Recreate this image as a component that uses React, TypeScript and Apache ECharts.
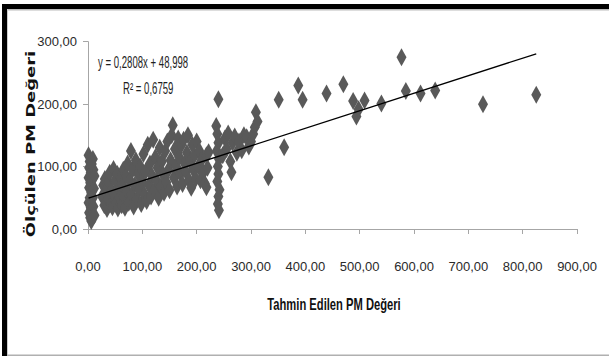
import React, { useEffect, useRef } from "react";
import * as echarts from "echarts";

const nearZeroPoints = [
  [1, 118], [3, 108], [2, 98], [5, 90], [1, 82], [4, 74], [2, 66], [6, 58], [3, 50], [1, 42], [5, 34],
  [2, 26], [4, 18], [6, 13], [9, 112], [10, 95], [8, 80], [11, 65], [9, 50], [10, 36], [12, 22], [7, 104], [12, 85],
];
const lowPoints = [
  [26, 52], [28, 70], [30, 38], [31, 80], [33, 60], [35, 32], [37, 48], [38, 75], [40, 90], [42, 40], [43, 62],
  [45, 35], [47, 96], [48, 55], [50, 78], [52, 42], [54, 88], [55, 33], [57, 65], [58, 50], [60, 82],
  [62, 38], [63, 70], [65, 95], [66, 52], [68, 34], [70, 85], [72, 60], [73, 105], [75, 42], [77, 78], [79, 125],
  [80, 55], [82, 95], [84, 36], [86, 70], [88, 110], [90, 48], [92, 88], [94, 62], [96, 100], [98, 40], [100, 75],
];
const midPoints = [
  [102, 120], [104, 55], [106, 92], [108, 45], [110, 135], [112, 70], [114, 105], [116, 52], [118, 85], [120, 143],
  [122, 62], [124, 115], [126, 78], [128, 98], [130, 50], [132, 130], [134, 68], [136, 108], [138, 88], [140, 58],
  [142, 125], [144, 75], [146, 140], [148, 95], [150, 62], [152, 110], [154, 150], [156, 166], [158, 82], [160, 128],
  [162, 100], [164, 68], [166, 145], [168, 115], [170, 88], [172, 135], [174, 72], [176, 143], [178, 105], [180, 92],
  [182, 122], [184, 150], [186, 78], [188, 108], [190, 66], [192, 135], [194, 95], [196, 118], [198, 80], [200, 140],
  [203, 100], [205, 125], [207, 78], [210, 112], [212, 90], [215, 73], [218, 118], [218, 67], [220, 98], [222, 123],
];
const upperMidPoints = [
  [236, 165], [238, 152], [240, 138], [237, 125], [241, 112], [239, 100], [240, 88], [238, 76], [242, 63], [240, 52],
  [239, 40], [241, 30], [240, 208],
  [248, 118], [252, 145], [255, 128], [258, 153], [262, 108], [264, 91], [266, 138], [270, 148], [274, 122],
  [278, 140], [283, 126], [287, 150], [292, 147], [296, 132], [300, 140], [304, 152], [307, 163], [309, 187], [312, 172],
];
const highPoints = [
  [332, 83], [351, 207], [361, 131], [387, 230], [395, 207], [439, 217], [470, 232], [488, 205], [494, 180],
  [498, 192], [509, 206], [540, 201], [577, 275], [585, 221], [612, 217], [639, 222], [727, 200], [825, 215],
];

// Trendline end points (y = 0,2808x + 48,998 over the data range)
const trendX = [1, 825];
const trendY = [49.28, 280.66];

const xTicks = { min: 0, max: 900, step: 100 };
const yTicks = { min: 0, max: 300, step: 100 };

const equationText = "y = 0,2808x + 48,998";
const r2Text = "R² = 0,6759";
const xTitle = "Tahmin Edilen PM Değeri";
const yTitle = "Ölçülen PM Değeri";

const fmt = (v: number) => v.toFixed(2).replace(".", ",");
const labelFont = '"Liberation Sans", Arial, sans-serif';

export default function App() {
  const ref = useRef<HTMLDivElement>(null);

  useEffect(() => {
    document.body.style.margin = "0";
    const chart = echarts.init(ref.current!, null, { renderer: "svg" });
    const points = [...nearZeroPoints, ...lowPoints, ...midPoints, ...upperMidPoints, ...highPoints];
    chart.setOption({
      animation: false,
      backgroundColor: "#ffffff",
      grid: { left: 88, right: 32, top: 41.7, bottom: 127, containLabel: false },
      xAxis: {
        type: "value",
        min: xTicks.min,
        max: xTicks.max,
        interval: xTicks.step,
        splitLine: { show: false },
        axisLine: { show: true, lineStyle: { color: "#a6a6a6", width: 1 } },
        axisTick: { show: true, length: 5, lineStyle: { color: "#a6a6a6" } },
        axisLabel: { margin: 31, formatter: fmt, fontFamily: labelFont, fontSize: 13, color: "#2a2a2a" },
      },
      yAxis: {
        type: "value",
        min: yTicks.min,
        max: yTicks.max,
        interval: yTicks.step,
        splitLine: { show: false },
        axisLine: { show: true, lineStyle: { color: "#a6a6a6", width: 1 } },
        axisTick: { show: true, length: 5, lineStyle: { color: "#a6a6a6" } },
        axisLabel: { margin: 11, formatter: fmt, fontFamily: labelFont, fontSize: 13, color: "#2a2a2a" },
      },
      series: [
        {
          type: "scatter",
          symbol: "diamond",
          symbolSize: [10, 18],
          itemStyle: { color: "#595959", opacity: 1 },
          data: points,
          z: 2,
        },
        {
          type: "line",
          data: trendX.map((x, i) => [x, trendY[i]]),
          showSymbol: false,
          symbol: "none",
          lineStyle: { color: "#000", width: 1.3 },
          z: 3,
        },
      ],
      graphic: [
        { type: "rect", shape: { x: 2, y: 4, width: 607, height: 5 }, style: { fill: "#000" }, silent: true },
        { type: "rect", shape: { x: 7, y: 9, width: 602, height: 1.5 }, style: { fill: "#bbbbbb" }, silent: true },
        { type: "rect", shape: { x: 2, y: 4, width: 5, height: 352 }, style: { fill: "#000" }, silent: true },
        { type: "rect", shape: { x: 7, y: 9, width: 1, height: 347 }, style: { fill: "#cccccc" }, silent: true },
        { type: "rect", shape: { x: 7, y: 354.5, width: 602, height: 1.5 }, style: { fill: "#b0b0b0" }, silent: true },
        {
          type: "text",
          x: 98,
          y: 63,
          scaleX: 0.6,
          style: {
            text: equationText,
            font: '16px "Liberation Sans", sans-serif',
            fill: "#1e1e1e",
            align: "left",
            textAlign: "left",
            verticalAlign: "middle",
            textVerticalAlign: "middle",
          },
        },
        {
          type: "text",
          x: 123,
          y: 89,
          scaleX: 0.6,
          style: {
            text: r2Text,
            font: '16px "Liberation Sans", sans-serif',
            fill: "#1e1e1e",
            align: "left",
            textAlign: "left",
            verticalAlign: "middle",
            textVerticalAlign: "middle",
          },
        },
        {
          type: "text",
          x: 334,
          y: 304,
          scaleX: 0.7,
          style: {
            text: xTitle,
            font: 'bold 16px "Liberation Sans", sans-serif',
            fill: "#111",
            align: "center",
            textAlign: "center",
            verticalAlign: "middle",
            textVerticalAlign: "middle",
          },
        },
        {
          type: "text",
          x: 30,
          y: 144,
          rotation: Math.PI / 2,
          scaleX: 1.38,
          style: {
            text: yTitle,
            font: 'bold 13px "DejaVu Sans", sans-serif',
            fill: "#111",
            align: "center",
            textAlign: "center",
            verticalAlign: "middle",
            textVerticalAlign: "middle",
          },
        },
      ],
    });
    return () => chart.dispose();
  }, []);

  return <div ref={ref} style={{ width: 609, height: 356 }} />;
}
